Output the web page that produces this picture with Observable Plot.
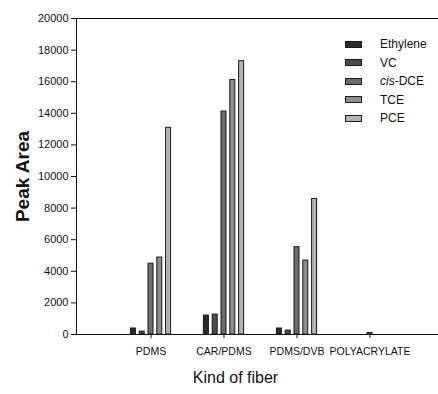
<!DOCTYPE html>
<html>
<head>
<meta charset="utf-8">
<script src="https://cdn.jsdelivr.net/npm/d3@7"></script>
<script src="https://cdn.jsdelivr.net/npm/@observablehq/plot@0.6"></script>
<style>
  body { margin: 0; background: #fff; }
  #wrap { position: relative; width: 438px; height: 394px; overflow: hidden; }
  #legend { position: absolute; left: 345px; top: 35px; font-family: "Liberation Sans", Arial, sans-serif; font-size: 12px; color: #111; }
  #legend .row { display: flex; align-items: center; height: 18.5px; }
  #legend .sw { width: 15px; height: 5px; border: 1px solid #1a1a1a; margin-right: 18px; }
  #edge { position: absolute; left: 434px; top: 19px; width: 4px; height: 314px; background: #fff; }
</style>
</head>
<body>
<div id="wrap"><div id="legend"></div><div id="edge"></div></div>
<script>
const fibers = ["PDMS", "CAR/PDMS", "PDMS/DVB", "POLYACRYLATE"];
const compounds = ["Ethylene", "VC", "cis-DCE", "TCE", "PCE"];
const ethylene = [380, 1200, 380, 0];
const vc = [180, 1260, 250, 0];
const cisDCE = [4480, 14110, 5530, 100];
const tce = [4870, 16110, 4680, 0];
const pce = [13080, 17300, 8580, 0];
const yTicks = [0, 2000, 4000, 6000, 8000, 10000, 12000, 14000, 16000, 18000, 20000];
const colors = ["#2c2c2c", "#4c4c4c", "#6c6c6c", "#8c8c8c", "#b3b3b3"];

const series = [ethylene, vc, cisDCE, tce, pce];
const rows = [];
compounds.forEach((c, i) => fibers.forEach((f, j) => rows.push({fiber: f, compound: c, value: series[i][j]})));

const font = "'Liberation Sans', Arial, sans-serif";
const barStep = 8.8;

const bars = compounds.map((c, i) =>
  Plot.barY(rows.filter(d => d.compound === c && d.value > 0), {
    x: "fiber", y: "value",
    fill: colors[i], stroke: "#1a1a1a", strokeWidth: 1,
    insetLeft: 34, insetRight: 34,
    dx: (i - 2) * barStep
  })
);

// vertical y-axis line at the left edge of the frame, from y = 0 to the top of the y domain
function leftAxisLine(index, scales, values, dims) {
  const line = document.createElementNS("http://www.w3.org/2000/svg", "line");
  const x0 = dims.marginLeft + 0.5;
  line.setAttribute("x1", x0);
  line.setAttribute("x2", x0);
  line.setAttribute("y1", scales.y(0));
  line.setAttribute("y2", scales.y(yTicks[yTicks.length - 1]));
  line.setAttribute("stroke", "#111");
  return line;
}

const chart = Plot.plot({
  width: 438,
  height: 394,
  marginLeft: 76,
  marginRight: 0,
  marginTop: 18,
  marginBottom: 60,
  style: {fontFamily: font, fontSize: "12px", color: "#111", background: "#fff", overflow: "hidden"},
  x: {domain: fibers, range: [76, 443.5], paddingInner: 0, paddingOuter: 0.5, align: 0.5, axis: null},
  y: {domain: [0, 20000], axis: null},
  marks: [
    ...bars,
    Plot.ruleY([0, 20000], {stroke: "#111"}),
    leftAxisLine,
    Plot.axisY(yTicks, {tickSize: 5, tickPadding: 3, fontSize: 11, label: null, stroke: "#111", tickFormat: d => String(d)}),
    Plot.axisX({tickSize: 4, tickPadding: 9, fontSize: 10.5, label: null, stroke: "#111"}),
    Plot.text(["Kind of fiber"], {frameAnchor: "bottom", dx: -22, dy: 48, fontSize: 16, fill: "#111"}),
    Plot.text(["Peak Area"], {frameAnchor: "left", textAnchor: "middle", dx: -54, rotate: -90, fontSize: 19, fontWeight: "bold", fill: "#111"})
  ]
});
document.getElementById("wrap").prepend(chart);

const legend = document.getElementById("legend");
compounds.forEach((c, i) => {
  const row = document.createElement("div");
  row.className = "row";
  const sw = document.createElement("div");
  sw.className = "sw";
  sw.style.background = colors[i];
  const lab = document.createElement("span");
  if (c.startsWith("cis-")) {
    const it = document.createElement("i");
    it.textContent = "cis";
    lab.appendChild(it);
    lab.appendChild(document.createTextNode(c.slice(3)));
  } else {
    lab.textContent = c;
  }
  row.appendChild(sw);
  row.appendChild(lab);
  legend.appendChild(row);
});
</script>
</body>
</html>
